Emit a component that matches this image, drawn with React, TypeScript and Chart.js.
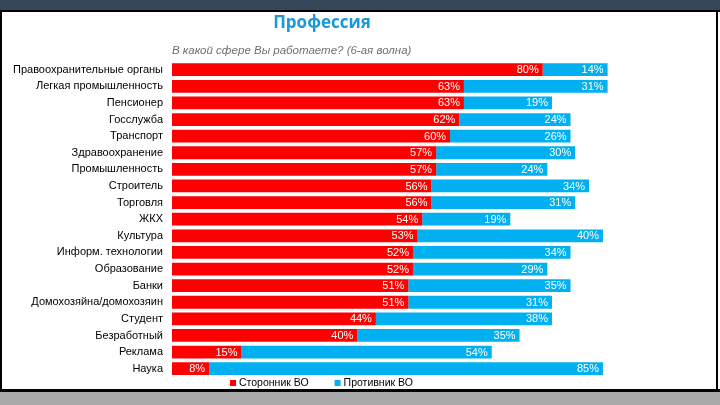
import React, { useEffect, useRef } from "react";
import { Chart, registerables } from "chart.js";

Chart.register(...registerables);

const categories = [
  "Правоохранительные органы",
  "Легкая промышленность",
  "Пенсионер",
  "Госслужба",
  "Транспорт",
  "Здравоохранение",
  "Промышленность",
  "Строитель",
  "Торговля",
  "ЖКХ",
  "Культура",
  "Информ. технологии",
  "Образование",
  "Банки",
  "Домохозяйна/домохозяин",
  "Студент",
  "Безработный",
  "Реклама",
  "Наука",
];

const supporters = [80, 63, 63, 62, 60, 57, 57, 56, 56, 54, 53, 52, 52, 51, 51, 44, 40, 15, 8];
const opponents = [14, 31, 19, 24, 26, 30, 24, 34, 31, 19, 40, 34, 29, 35, 31, 38, 35, 54, 85];

const seriesNames = ["Сторонник ВО", "Противник ВО"];
const seriesColors = ["#ff0000", "#00b0f0"];

const titleText = "Профессия";
const subtitleText = "В какой сфере Вы работаете? (6-ая волна)";

const FONT = "'Liberation Sans', Arial, sans-serif";

const framePlugin = {
  id: "frame",
  beforeDraw(chart: any) {
    const ctx = chart.ctx;
    const w = chart.width;
    const h = chart.height;
    ctx.save();
    ctx.fillStyle = "#ffffff";
    ctx.fillRect(0, 0, w, h);
    ctx.fillStyle = "#344657";
    ctx.fillRect(0, 0, w, 11);
    ctx.fillStyle = "#a9a9a9";
    ctx.fillRect(0, 391, w, h - 391);
    ctx.fillStyle = "#000000";
    ctx.fillRect(0, 10, w, 2);
    ctx.fillRect(0, 389, w, 3);
    ctx.fillRect(0, 10, 2, 382);
    ctx.fillRect(716, 10, 2, 382);
    ctx.restore();
  },
};

const textPlugin = {
  id: "texts",
  afterDraw(chart: any) {
    const ctx = chart.ctx;
    const area = chart.chartArea;
    ctx.save();
    // title
    ctx.fillStyle = "#1a98dc";
    ctx.font = `bold 17px 'Open Sans', ${FONT}`;
    ctx.textAlign = "center";
    ctx.textBaseline = "middle";
    ctx.fillText(titleText, 322, 23);
    // subtitle
    ctx.fillStyle = "#707070";
    ctx.font = `italic 11.5px ${FONT}`;
    ctx.textAlign = "left";
    ctx.fillText(subtitleText, area.left, 51);
    // legend
    ctx.font = `10.5px ${FONT}`;
    ctx.textBaseline = "middle";
    const y = 383;
    let x = 230;
    chart.data.datasets.forEach((ds: any) => {
      ctx.fillStyle = ds.backgroundColor;
      ctx.fillRect(x, y - 3, 6, 6);
      ctx.fillStyle = "#000000";
      ctx.fillText(ds.label, x + 9, y + 0.5);
      x += 9 + ctx.measureText(ds.label).width + 26;
    });
    ctx.restore();
  },
};

const labelPlugin = {
  id: "barLabels",
  afterDatasetsDraw(chart: any) {
    const ctx = chart.ctx;
    ctx.save();
    ctx.font = `11px ${FONT}`;
    ctx.fillStyle = "#ffffff";
    ctx.textAlign = "right";
    ctx.textBaseline = "middle";
    chart.data.datasets.forEach((ds: any, di: number) => {
      const meta = chart.getDatasetMeta(di);
      meta.data.forEach((bar: any, i: number) => {
        ctx.fillText(ds.data[i] + "%", bar.x - 4, bar.y + 0.5);
      });
    });
    ctx.restore();
  },
};

export default function App() {
  const ref = useRef<HTMLCanvasElement>(null);

  useEffect(() => {
    document.body.style.margin = "0";
    const chart = new Chart(ref.current as HTMLCanvasElement, {
      type: "bar",
      data: {
        labels: categories,
        datasets: [
          { label: seriesNames[0], data: supporters, backgroundColor: seriesColors[0] },
          { label: seriesNames[1], data: opponents, backgroundColor: seriesColors[1] },
        ],
      },
      options: {
        indexAxis: "y",
        responsive: false,
        animation: false,
        maintainAspectRatio: false,
        layout: { padding: { left: 8, right: 84.6, top: 61.4, bottom: 28 } },
        datasets: { bar: { categoryPercentage: 1, barPercentage: 0.77, borderWidth: 0 } },
        plugins: { legend: { display: false }, title: { display: false }, tooltip: { enabled: false } },
        scales: {
          x: { stacked: true, min: 0, max: 100, display: false },
          y: {
            stacked: true,
            grid: { display: false, drawTicks: false },
            border: { display: false },
            ticks: { color: "#000000", font: { family: FONT, size: 11 }, padding: 9, autoSkip: false },
            afterFit: (s: any) => {
              s.width = 164;
            },
          },
        },
      },
      plugins: [framePlugin, labelPlugin, textPlugin],
    } as any);
    return () => chart.destroy();
  }, []);

  return <canvas ref={ref} width={720} height={405} style={{ display: "block" }} />;
}
